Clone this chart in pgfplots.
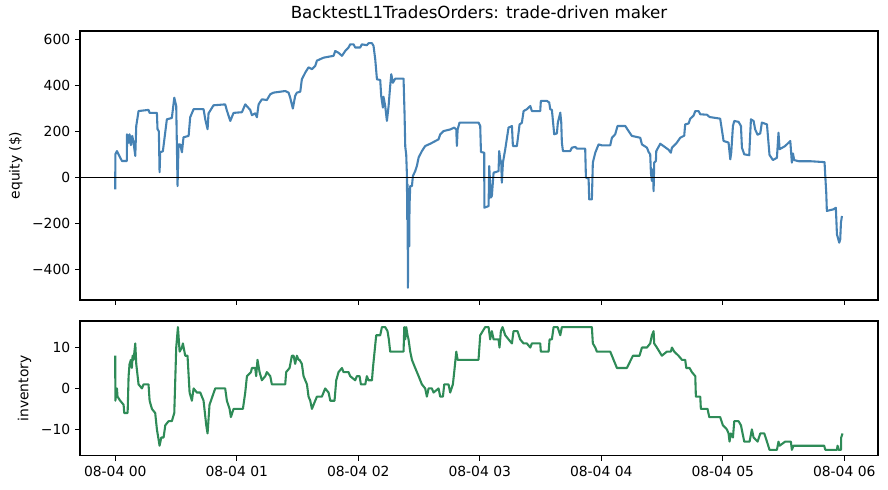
\documentclass[border=0pt]{standalone}
\usepackage{pgfplots}
\usepackage{pgfplotstable}
\pgfplotsset{compat=1.18}
\usepackage{fontspec}
\setmainfont{DejaVu Sans}

\definecolor{eqblue}{HTML}{4682B4}
\definecolor{invgreen}{HTML}{2E8B57}

% equity curve (hours since 08-04 00:00, dollars)
\pgfplotstableread{
h eq
0.000 -52
0.001 100
0.014 114
0.055 71
0.096 71
0.097 187
0.110 150
0.118 187
0.129 140
0.140 180
0.151 150
0.165 93
0.173 223
0.192 288
0.274 293
0.283 280
0.343 280
0.348 209
0.359 200
0.365 22
0.370 109
0.392 113
0.425 252
0.466 258
0.486 346
0.502 310
0.513 -38
0.521 143
0.535 143
0.549 109
0.562 174
0.604 180
0.617 261
0.645 296
0.727 296
0.741 252
0.760 209
0.768 278
0.809 313
0.905 317
0.919 290
0.947 245
0.974 280
1.043 283
1.070 317
1.111 293
1.125 270
1.152 278
1.166 261
1.180 317
1.207 339
1.248 336
1.276 361
1.303 368
1.399 375
1.427 368
1.440 346
1.462 299
1.481 354
1.495 368
1.523 372
1.536 426
1.564 455
1.591 478
1.619 470
1.646 484
1.660 507
1.715 520
1.797 528
1.811 549
1.838 541
1.866 528
1.893 549
1.920 564
1.934 578
1.962 578
1.975 564
2.016 564
2.030 578
2.071 574
2.085 583
2.113 583
2.126 571
2.140 513
2.154 426
2.181 423
2.189 354
2.203 303
2.208 350
2.222 310
2.236 245
2.250 310
2.263 397
2.272 448
2.285 411
2.305 429
2.373 429
2.381 281
2.387 134
2.395 98
2.401 6
2.403 -183
2.406 -30
2.409 -480
2.414 -50
2.420 -300
2.422 -125
2.428 -38
2.442 -38
2.450 6
2.469 27
2.483 50
2.497 86
2.524 114
2.551 136
2.593 146
2.661 165
2.675 187
2.702 201
2.757 208
2.790 216
2.807 208
2.812 136
2.818 208
2.834 238
2.990 238
3.004 223
3.010 110
3.037 107
3.038 -132
3.073 -125
3.078 49
3.092 -88
3.100 -80
3.114 20
3.155 27
3.160 114
3.169 78
3.177 64
3.182 -23
3.191 64
3.210 122
3.237 216
3.265 223
3.273 136
3.306 136
3.328 230
3.347 237
3.361 288
3.388 296
3.416 310
3.429 288
3.498 288
3.503 332
3.553 332
3.572 325
3.580 296
3.594 293
3.613 187
3.635 191
3.643 238
3.663 281
3.671 238
3.676 151
3.685 114
3.745 114
3.759 129
3.786 132
3.800 125
3.868 125
3.874 -1
3.896 -6
3.901 -96
3.923 -96
3.931 64
3.951 107
3.978 143
4.005 139
4.074 139
4.088 172
4.115 187
4.134 223
4.198 223
4.225 201
4.252 180
4.321 172
4.335 143
4.376 129
4.390 110
4.403 100
4.409 20
4.417 -16
4.425 35
4.431 -60
4.436 64
4.450 71
4.453 114
4.486 146
4.554 120
4.573 107
4.582 129
4.609 143
4.623 151
4.650 172
4.683 181
4.691 230
4.719 234
4.733 255
4.760 268
4.774 288
4.801 288
4.815 274
4.870 272
4.892 262
4.979 255
5.007 158
5.048 151
5.062 78
5.070 107
5.084 223
5.095 245
5.130 241
5.150 223
5.158 129
5.177 100
5.218 96
5.232 252
5.254 245
5.267 208
5.287 185
5.309 191
5.322 238
5.364 230
5.385 97
5.413 75
5.446 85
5.459 194
5.468 122
5.514 136
5.556 158
5.569 64
5.578 104
5.588 75
5.624 70
5.720 70
5.838 66
5.844 6
5.852 -67
5.857 -146
5.912 -139
5.931 -132
5.940 -248
5.959 -284
5.967 -270
5.973 -197
5.981 -168
}\equitytable

% net inventory (hours, contracts)
\pgfplotstableread{
h inv
0.000 8
0.001 -3
0.014 0
0.019 -2
0.041 -3
0.069 -4
0.074 -6
0.102 -6
0.110 3
0.118 6
0.129 7
0.137 5
0.143 8
0.151 7
0.165 11
0.173 6
0.192 1
0.220 0
0.233 1
0.274 1
0.283 -3
0.302 -5
0.329 -6
0.343 -10
0.365 -14
0.379 -12
0.398 -12
0.412 -9
0.439 -8
0.466 -8
0.486 -6
0.502 10
0.516 15
0.530 9
0.549 10
0.557 11
0.576 8
0.595 8
0.612 -1
0.631 -3
0.645 0
0.672 -1
0.700 -1
0.727 -3
0.749 -9
0.760 -11
0.776 -4
0.823 0
0.905 0
0.919 -3
0.941 -5
0.952 -7
0.974 -5
1.051 -5
1.070 -1
1.084 3
1.117 4
1.125 5
1.152 5
1.160 3
1.171 7
1.188 4
1.207 2
1.235 3
1.248 4
1.276 3
1.289 1
1.317 1
1.358 1
1.399 1
1.407 4
1.435 5
1.454 8
1.468 8
1.481 6
1.495 8
1.509 7
1.517 7
1.536 6
1.550 3
1.578 1
1.591 -2
1.605 -3
1.619 -5
1.646 -3
1.660 -2
1.701 -2
1.728 0
1.756 -1
1.770 -3
1.805 -3
1.819 2
1.838 4
1.866 5
1.879 4
1.920 4
1.934 3
1.975 2
1.989 3
2.011 3
2.022 1
2.058 1
2.071 3
2.085 2
2.113 2
2.121 5
2.148 13
2.181 13
2.195 15
2.222 15
2.241 14
2.252 12
2.263 9
2.291 9
2.373 9
2.379 15
2.387 12
2.395 15
2.406 13
2.414 12
2.428 9
2.442 7
2.469 5
2.497 3
2.524 1
2.551 0
2.565 -2
2.579 0
2.606 0
2.620 -1
2.661 0
2.675 -2
2.697 -2
2.708 1
2.743 1
2.757 -1
2.779 1
2.790 4
2.807 9
2.818 7
2.990 7
3.004 13
3.045 15
3.073 15
3.086 12
3.100 14
3.114 12
3.155 12
3.163 10
3.174 14
3.188 15
3.210 13
3.237 12
3.265 11
3.278 14
3.311 14
3.333 12
3.361 11
3.388 11
3.416 10
3.429 11
3.498 11
3.503 9
3.567 9
3.575 12
3.594 12
3.608 15
3.641 15
3.663 13
3.676 15
3.923 15
3.931 11
3.951 10
3.964 9
4.074 9
4.088 8
4.129 5
4.211 5
4.261 8
4.315 8
4.335 10
4.376 10
4.403 11
4.417 13
4.431 14
4.436 11
4.458 10
4.499 8
4.540 9
4.573 9
4.582 10
4.601 9
4.636 8
4.664 7
4.691 7
4.700 5
4.727 5
4.746 4
4.774 3
4.779 -2
4.815 -2
4.820 -5
4.875 -5
4.889 -7
4.979 -7
5.001 -9
5.034 -10
5.048 -11
5.056 -13
5.067 -11
5.084 -12
5.095 -8
5.130 -8
5.150 -9
5.177 -13
5.221 -13
5.240 -10
5.254 -12
5.287 -13
5.309 -11
5.342 -11
5.364 -13
5.385 -15
5.446 -15
5.459 -13
5.468 -14
5.514 -13
5.561 -13
5.569 -15
5.583 -14
5.835 -14
5.844 -15
5.940 -15
5.945 -14
5.953 -15
5.973 -15
5.975 -12
5.986 -11
}\inventorytable

\pgfplotsset{
  panel/.style={
    scale only axis,
    width=574.6pt,
    xmin=-0.29, xmax=6.278,
    axis line style={line width=0.8pt},
    every tick/.style={black, line width=0.8pt},
    major tick length=3.5pt,
    tick align=outside,
    xtick pos=bottom, ytick pos=left,
    xtick={0,1,2,3,4,5,6},
    tick label style={font=\fontsize{10}{12}\selectfont},
    label style={font=\fontsize{10}{12}\selectfont},
    clip=true,
  },
}

\begin{document}
\begin{tikzpicture}
\path[use as bounding box] (0,0) rectangle (639.4pt,352.8pt);

\begin{axis}[
  panel,
  at={(57.6pt,136.8pt)}, anchor=south west,
  height=193.7pt,
  ymin=-533, ymax=636,
  ytick={-400,-200,0,200,400,600},
  yticklabels={−400,−200,0,200,400,600},
  xticklabels={},
  ylabel={equity (\$)},
  title={BacktestL1TradesOrders: trade-driven maker},
  title style={font=\fontsize{12}{14}\selectfont, yshift=-1pt},
]
\addplot[eqblue, line width=1.5pt, line join=round] table[x=h, y=eq] {\equitytable};
\addplot[black, line width=0.6pt, forget plot] coordinates {(-0.29,0) (6.278,0)};
\end{axis}

\begin{axis}[
  panel,
  at={(57.6pt,24.5pt)}, anchor=south west,
  height=97.2pt,
  ymin=-16.5, ymax=16.5,
  ytick={-10,0,10},
  yticklabels={−10,0,10},
  xticklabels={08-04 00,08-04 01,08-04 02,08-04 03,08-04 04,08-04 05,08-04 06},
  ylabel={inventory},
]
\addplot[invgreen, line width=1.5pt, line join=round] table[x=h, y=inv] {\inventorytable};
\end{axis}
\end{tikzpicture}
\end{document}
